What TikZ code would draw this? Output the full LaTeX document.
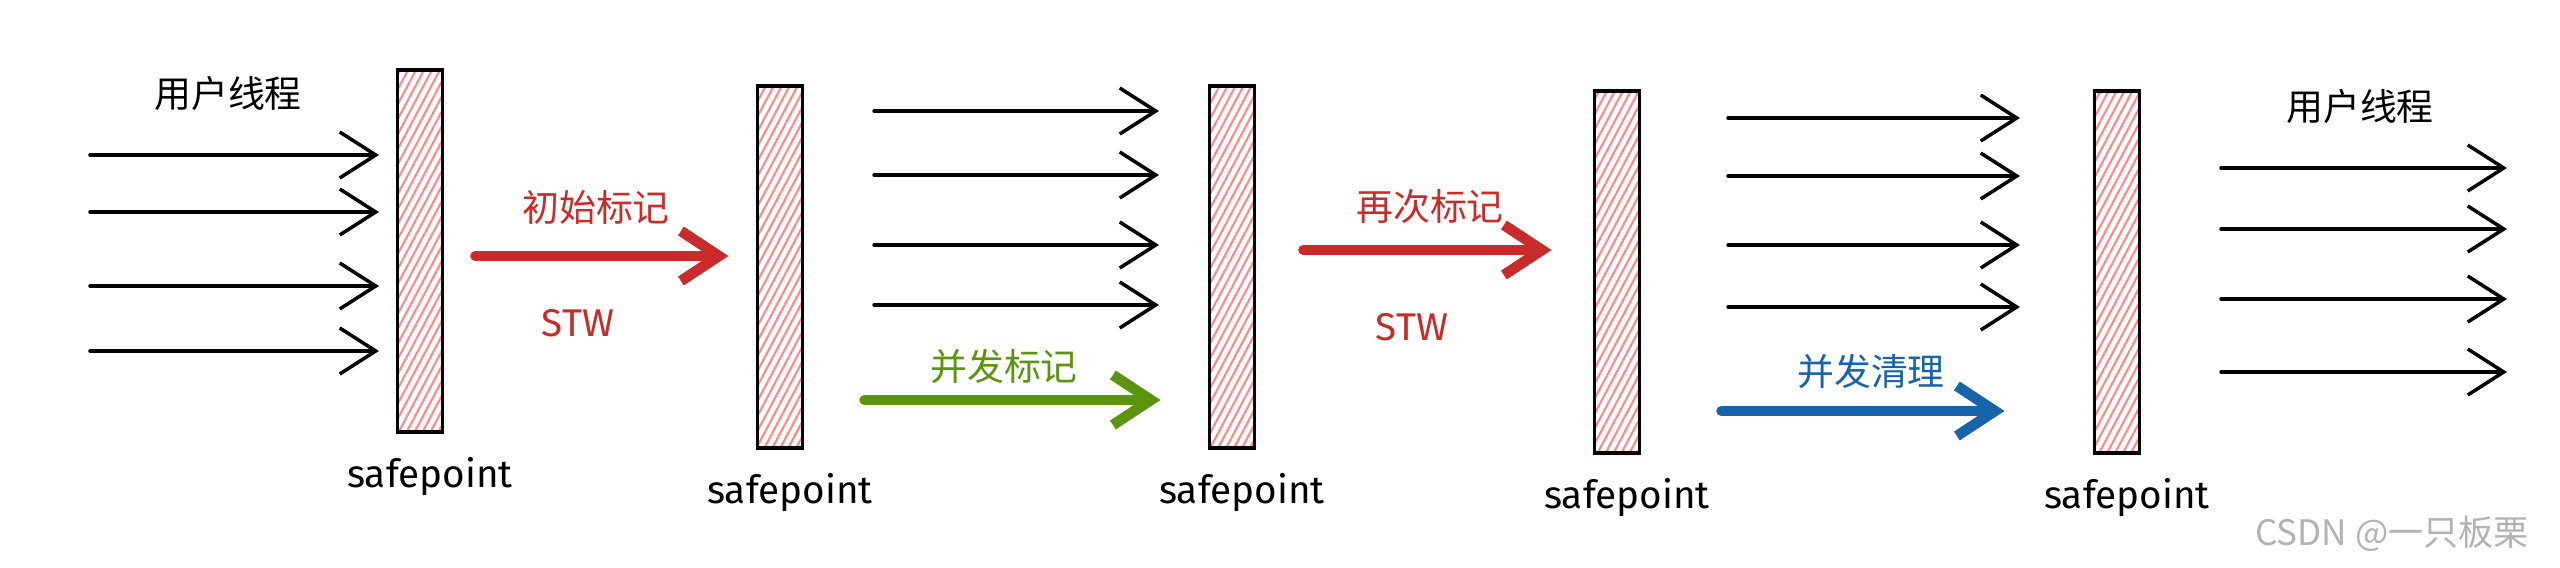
\documentclass[tikz,border=0pt]{standalone}
\usepackage{fontspec}
\setmainfont{Fira Sans}
\newfontfamily\cjk{Noto Sans CJK SC}
\usetikzlibrary{arrows.meta,positioning,calc,patterns.meta}
\definecolor{exred}{HTML}{C92A2A}
\definecolor{exgreen}{HTML}{5C940D}
\definecolor{exblue}{HTML}{1864AB}
\definecolor{hatch}{HTML}{FF8787}
\tikzset{
  spbar/.style={rectangle,draw=black,line width=0.9pt,inner sep=0pt,outer sep=0pt,
    minimum width=4.5mm,minimum height=36.2mm,
    pattern={Lines[angle=62,distance=2pt,line width=0.6pt]},pattern color=hatch},
  sptext/.style={inner sep=0pt,font=\fontsize{11}{13}\selectfont},
  tag/.style={inner sep=0pt,font=\cjk\fontsize{10.5}{12}\selectfont},
  stwtext/.style={inner sep=0pt,text=exred,font=\fontsize{11}{13}\selectfont},
  thread/.style={line width=1pt,line cap=round,-{Straight Barb[length=3.6mm,width=4.6mm]}},
  phase/.style={line width=3pt,line cap=round,-{Straight Barb[length=3.8mm,width=5mm]}},
}

\begin{document}
\begin{tikzpicture}[x=0.1mm,y=-0.1mm]
\useasboundingbox (0,0) rectangle (2560,568);

% safepoint bars
\node (sp1) [spbar] at (420,251) {};
\node (sp2) [spbar] at (780,267) {};
\node (sp3) [spbar] at (1232,267) {};
\node (sp4) [spbar] at (1617,272) {};
\node (sp5) [spbar] at (2117,272) {};
\foreach \b in {1,...,5}
  \node (t\b) [sptext,below=2.5mm of sp\b,xshift=1mm] {safepoint};

% user threads
\foreach \y in {155,212,286,351} \draw [thread] (90,\y) -- (379,\y);
\foreach \y in {111,175,245,305} \draw [thread] (874,\y) -- (1159,\y);
\foreach \y in {118,176,245,307} \draw [thread] (1728,\y) -- (2020,\y);
\foreach \y in {168,229,299,372} \draw [thread] (2221,\y) -- (2507,\y);
\node (u1) [tag] at (228,93) {用户线程};
\node (u2) [tag] at (2360,106) {用户线程};

% gc phases
\draw [phase,exred] ($(sp1.east)+(33,5)$) -- ($(sp2.west)+(-29,-11)$);
\draw [phase,exgreen] ($(sp2.east)+(62,133)$) -- ($(sp3.west)+(-49,133)$);
\draw [phase,exred] ($(sp3.east)+(49,-17)$) -- ($(sp4.west)+(-43,-22)$);
\draw [phase,exblue] ($(sp4.east)+(82,139)$) -- ($(sp5.west)+(-90,139)$);
\node (p1) [tag,text=exred] at (596,207) {初始标记};
\node (s1) [stwtext] at (578,323) {STW};
\node (p2) [tag,text=exgreen] at (1004,367) {并发标记};
\node (p3) [tag,text=exred] at (1430,207) {再次标记};
\node (s2) [stwtext] at (1412,327) {STW};
\node (p4) [tag,text=exblue] at (1871,372) {并发清理};

\node (wm) [tag,text=gray!60,font=\cjk\fontsize{10}{12}\selectfont] at (2392,534) {CSDN @一只板栗};
\end{tikzpicture}
\end{document}
